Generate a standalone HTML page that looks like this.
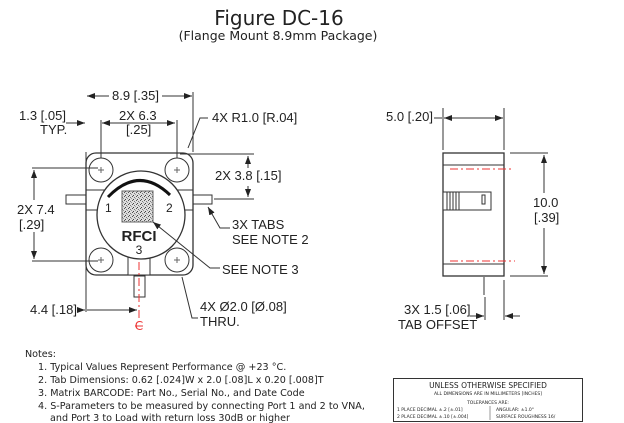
<!DOCTYPE html>
<html><head><meta charset="utf-8"><style>
html,body{margin:0;padding:0;background:#fff;}
svg{display:block;}
text{font-family:"DejaVu Sans","Liberation Sans",sans-serif;fill:#222;}
.l{font-family:"Liberation Sans",sans-serif;font-size:13px;}
</style></head><body>
<svg width="624" height="423" viewBox="0 0 624 423" xmlns="http://www.w3.org/2000/svg">
<defs>
<marker id="a" markerWidth="8" markerHeight="6" refX="8" refY="3" orient="auto-start-reverse" markerUnits="userSpaceOnUse"><path d="M0,0 L8,3 L0,6z" fill="#222"/></marker>
<pattern id="bc" width="4" height="4" patternUnits="userSpaceOnUse"><rect width="4" height="4" fill="#ddd"/><rect x="0" y="0" width="1" height="1" fill="#555"/><rect x="2" y="1" width="1" height="1" fill="#777"/><rect x="1" y="3" width="1" height="1" fill="#444"/><rect x="3" y="2" width="1" height="1" fill="#999"/></pattern>
</defs>
<text x="279" y="25" font-size="20" text-anchor="middle">Figure DC-16</text>
<text x="278" y="40" font-size="12.5" text-anchor="middle">(Flange Mount 8.9mm Package)</text>

<g stroke="#333" stroke-width="1" fill="none">
<rect x="66" y="195" width="20" height="9" fill="#fff"/>
<rect x="193" y="195" width="19" height="9" fill="#fff"/>
<rect x="134" y="276" width="11" height="21" fill="#fff"/>
<rect x="86" y="153" width="107" height="122" rx="10" fill="#fff" stroke-width="1.3"/>
<line x1="86" y1="190" x2="193" y2="190"/><line x1="86" y1="210" x2="193" y2="210"/>
<rect x="128" y="256" width="22" height="19" fill="#fff"/>
<circle cx="141" cy="215" r="44" fill="#fff" stroke-width="1.3"/>
<circle cx="101" cy="170" r="12"/><circle cx="177" cy="170" r="12"/>
<circle cx="101" cy="260" r="12"/><circle cx="177" cy="260" r="12"/>
<path d="M98,170h6M101,167v6M174,170h6M177,167v6M98,260h6M101,257v6M174,260h6M177,257v6" stroke="#666"/>
<path d="M108,197 Q139,165 170,195" stroke-width="3" stroke="#111"/>
<rect x="122" y="191" width="31" height="31" fill="url(#bc)" stroke="#666"/>
<line x1="86" y1="152" x2="86" y2="312"/><line x1="193" y1="152" x2="193" y2="92"/>
<line x1="87" y1="96" x2="109" y2="96" marker-start="url(#a)"/><line x1="162" y1="96" x2="192" y2="96" marker-end="url(#a)"/>
<line x1="101" y1="158" x2="101" y2="120"/><line x1="177" y1="158" x2="177" y2="120"/>
<line x1="102" y1="123" x2="175" y2="123" marker-start="url(#a)" marker-end="url(#a)"/>
<line x1="66" y1="123" x2="85" y2="123" marker-end="url(#a)"/>
<line x1="32" y1="168" x2="98" y2="168"/><line x1="32" y1="261" x2="98" y2="261"/>
<line x1="34" y1="170" x2="34" y2="200" marker-start="url(#a)"/><line x1="34" y1="232" x2="34" y2="259" marker-end="url(#a)"/>
<line x1="180" y1="154" x2="254" y2="154"/><line x1="214" y1="199" x2="254" y2="199"/>
<line x1="248" y1="156" x2="248" y2="168" marker-start="url(#a)"/><line x1="248" y1="186" x2="248" y2="197" marker-end="url(#a)"/>
<line x1="77" y1="310" x2="85" y2="310" marker-end="url(#a)"/><line x1="87" y1="310" x2="137" y2="310" marker-end="url(#a)" />
<path d="M188,148 L200,118 H208"/>
<path d="M208,207 L220,228 H230" marker-start="url(#a)"/>
<path d="M153,222 L210,268 H220" marker-start="url(#a)"/>
<path d="M182,277 L192,318 H198"/>
<rect x="443" y="153" width="61" height="123" fill="#fff" stroke-width="1.3"/>
<line x1="443" y1="165" x2="504" y2="165"/><line x1="443" y1="264" x2="504" y2="264"/>
<rect x="443" y="192" width="48" height="18" fill="#fff"/>
<path d="M447,192v18M450,192v18M453,192v18M456,192v18M459,192v18"/>
<rect x="482" y="195" width="3" height="9"/>
<line x1="484" y1="277" x2="484" y2="295"/>
<line x1="443" y1="150" x2="443" y2="108"/><line x1="504" y1="150" x2="504" y2="108"/>
<line x1="434" y1="118" x2="442" y2="118"/><line x1="444" y1="118" x2="503" y2="118" marker-start="url(#a)" marker-end="url(#a)"/>
<line x1="510" y1="153" x2="548" y2="153"/><line x1="510" y1="276" x2="548" y2="276"/>
<line x1="544" y1="155" x2="544" y2="193" marker-start="url(#a)"/><line x1="544" y1="228" x2="544" y2="274" marker-end="url(#a)"/>
<line x1="485" y1="297" x2="485" y2="320"/><line x1="504" y1="280" x2="504" y2="320"/>
<line x1="470" y1="316" x2="484" y2="316" marker-end="url(#a)"/><line x1="520" y1="316" x2="505" y2="316" marker-end="url(#a)"/>
</g>
<g stroke="#e33" stroke-width="1" stroke-dasharray="8,3,2,3" fill="none">
<line x1="139" y1="262" x2="139" y2="318"/>
<line x1="450" y1="169" x2="513" y2="169"/><line x1="450" y1="261" x2="515" y2="261"/>
</g>
<text x="139" y="330" font-size="12" style="fill:#e33" text-anchor="middle">C</text>
<line x1="135" y1="326" x2="143" y2="326" stroke="#e33"/>

<g class="l">
<text x="112" y="100" class="l">8.9 [.35]</text>
<text x="19" y="120" class="l">1.3 [.05]</text><text x="40" y="134" class="l">TYP.</text>
<text x="119" y="120" class="l">2X 6.3</text><text x="126" y="134" class="l">[.25]</text>
<text x="212" y="122" class="l">4X R1.0 [R.04]</text>
<text x="215" y="180" class="l">2X 3.8 [.15]</text>
<text x="17" y="214" class="l">2X 7.4</text><text x="19" y="229" class="l">[.29]</text>
<text x="232" y="229" class="l">3X TABS</text><text x="232" y="244" class="l">SEE NOTE 2</text>
<text x="222" y="274" class="l">SEE NOTE 3</text>
<text x="200" y="311" class="l">4X Ø2.0 [Ø.08]</text><text x="200" y="326" class="l">THRU.</text>
<text x="30" y="314" class="l">4.4 [.18]</text>
<text x="386" y="121" class="l">5.0 [.20]</text>
<text x="533" y="207" class="l">10.0</text><text x="534" y="222" class="l">[.39]</text>
<text x="404" y="314" class="l">3X 1.5 [.06]</text><text x="398" y="329" class="l">TAB OFFSET</text>
</g>
<text x="105" y="212" font-size="12" style="font-family:'Liberation Sans',sans-serif">1</text>
<text x="166" y="212" font-size="12" style="font-family:'Liberation Sans',sans-serif">2</text>
<text x="139" y="241" font-size="15" font-weight="bold" text-anchor="middle" style="font-family:'Liberation Sans',sans-serif">RFCI</text>
<text x="139" y="254" font-size="12" text-anchor="middle" style="font-family:'Liberation Sans',sans-serif">3</text>

<g font-size="9.6">
<text x="25" y="357">Notes:</text>
<text x="38" y="370">1. Typical Values Represent Performance @ +23 °C.</text>
<text x="38" y="383">2. Tab Dimensions: 0.62 [.024]W x 2.0 [.08]L x 0.20 [.008]T</text>
<text x="38" y="396">3. Matrix BARCODE: Part No., Serial No., and Date Code</text>
<text x="38" y="409">4. S-Parameters to be measured by connecting Port 1 and 2 to VNA,</text>
<text x="50" y="421">and Port 3 to Load with return loss 30dB or higher</text>
</g>
<rect x="393.5" y="378.5" width="189" height="43" fill="none" stroke="#333"/>
<g style="font-family:'Liberation Sans',sans-serif">
<text x="488" y="388" font-size="7.5" text-anchor="middle">UNLESS OTHERWISE SPECIFIED</text>
<text x="488" y="395" font-size="4.5" text-anchor="middle">ALL DIMENSIONS ARE IN MILLIMETERS [INCHES]</text>
<text x="488" y="404" font-size="4.5" text-anchor="middle">TOLERANCES ARE:</text>
<text x="397" y="411" font-size="4.5">1 PLACE DECIMAL   ±.2  [±.01]</text>
<text x="397" y="418" font-size="4.5">2 PLACE DECIMAL   ±.10 [±.004]</text>
<text x="496" y="411" font-size="4.5">ANGULAR:  ±1.0°</text>
<text x="496" y="418" font-size="4.5">SURFACE ROUGHNESS   16/</text>
</g>
<line x1="490" y1="406" x2="490" y2="420" stroke="#555" stroke-width="0.6"/>
</svg>
</body></html>
